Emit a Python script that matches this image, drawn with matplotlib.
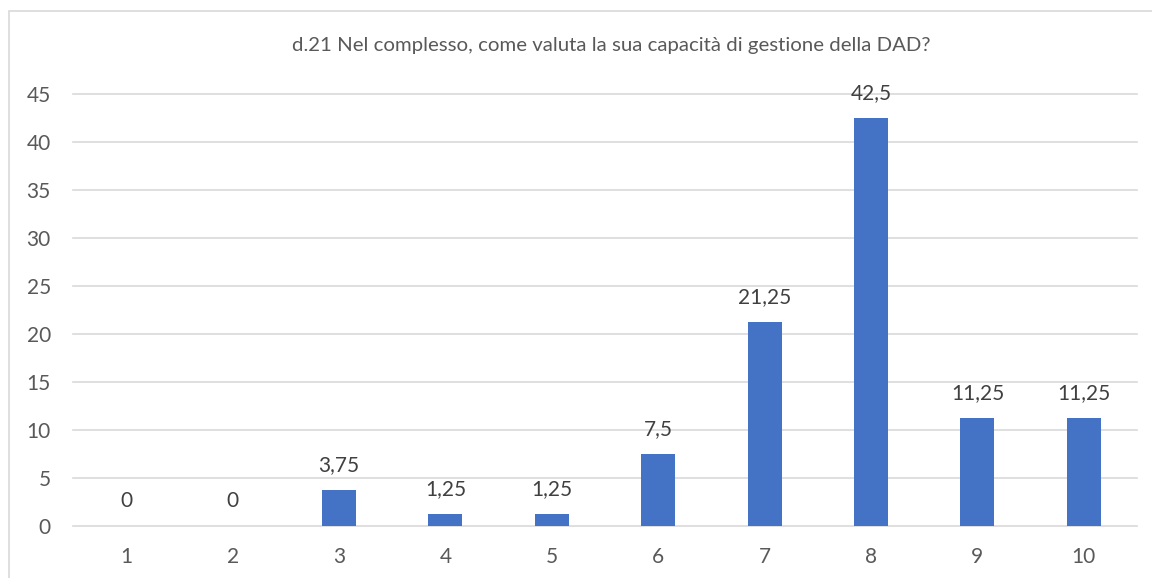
import matplotlib
matplotlib.use("Agg")
import matplotlib.pyplot as plt
from matplotlib.patches import Rectangle

# chart data
categories = ["1", "2", "3", "4", "5", "6", "7", "8", "9", "10"]
values = [0, 0, 3.75, 1.25, 1.25, 7.5, 21.25, 42.5, 11.25, 11.25]
labels = ["0", "0", "3,75", "1,25", "1,25", "7,5", "21,25", "42,5", "11,25", "11,25"]
yticks = [0, 5, 10, 15, 20, 25, 30, 35, 40, 45]
title = "d.21 Nel complesso, come valuta la sua capacità di gestione della DAD?"

BAR = "#4472C4"
TXT = "#595959"
GRID = "#D9D9D9"
FONT = "Lato"

W, H = 1152, 578
fig = plt.figure(figsize=(W / 100, H / 100), dpi=100)
fig.patch.set_facecolor("white")

# chart-area border (runs off the right/bottom edge in the source)
fig.patches.append(Rectangle((9 / W, -0.1), 1.2, 1 - 11 / H + 0.1, transform=fig.transFigure,
                             facecolor="none", edgecolor=GRID, linewidth=1.2))

ax = fig.add_axes([73 / W, 52 / H, (1137 - 73) / W, (526 - 94) / H])
x = list(range(len(categories)))
ax.bar(x, values, width=0.32, color=BAR, zorder=3)
ax.set_xlim(-0.5, len(categories) - 0.5)
ax.set_ylim(0, 45)
ax.set_yticks(yticks)
ax.set_xticks(x)
ax.set_xticklabels(categories)
for y in yticks:
    ax.axhline(y, color=GRID, linewidth=1.2, zorder=1, clip_on=False)
for s in ax.spines.values():
    s.set_visible(False)
ax.tick_params(length=0, labelsize=15, labelcolor=TXT)
ax.tick_params(axis="y", pad=16)
ax.tick_params(axis="x", pad=15)
for t in ax.get_xticklabels() + ax.get_yticklabels():
    t.set_fontfamily(FONT)

for xi, v, lab in zip(x, values, labels):
    ax.annotate(lab, (xi, v), xytext=(0, 18), textcoords="offset points",
                ha="center", va="center", fontsize=15, color="#404040", family=FONT, zorder=4)

fig.text(611 / W, 1 - 45 / H, title, ha="center", va="center", fontsize=14.7, color=TXT, family=FONT)

fig.savefig("out.png", dpi=100, facecolor="white")
